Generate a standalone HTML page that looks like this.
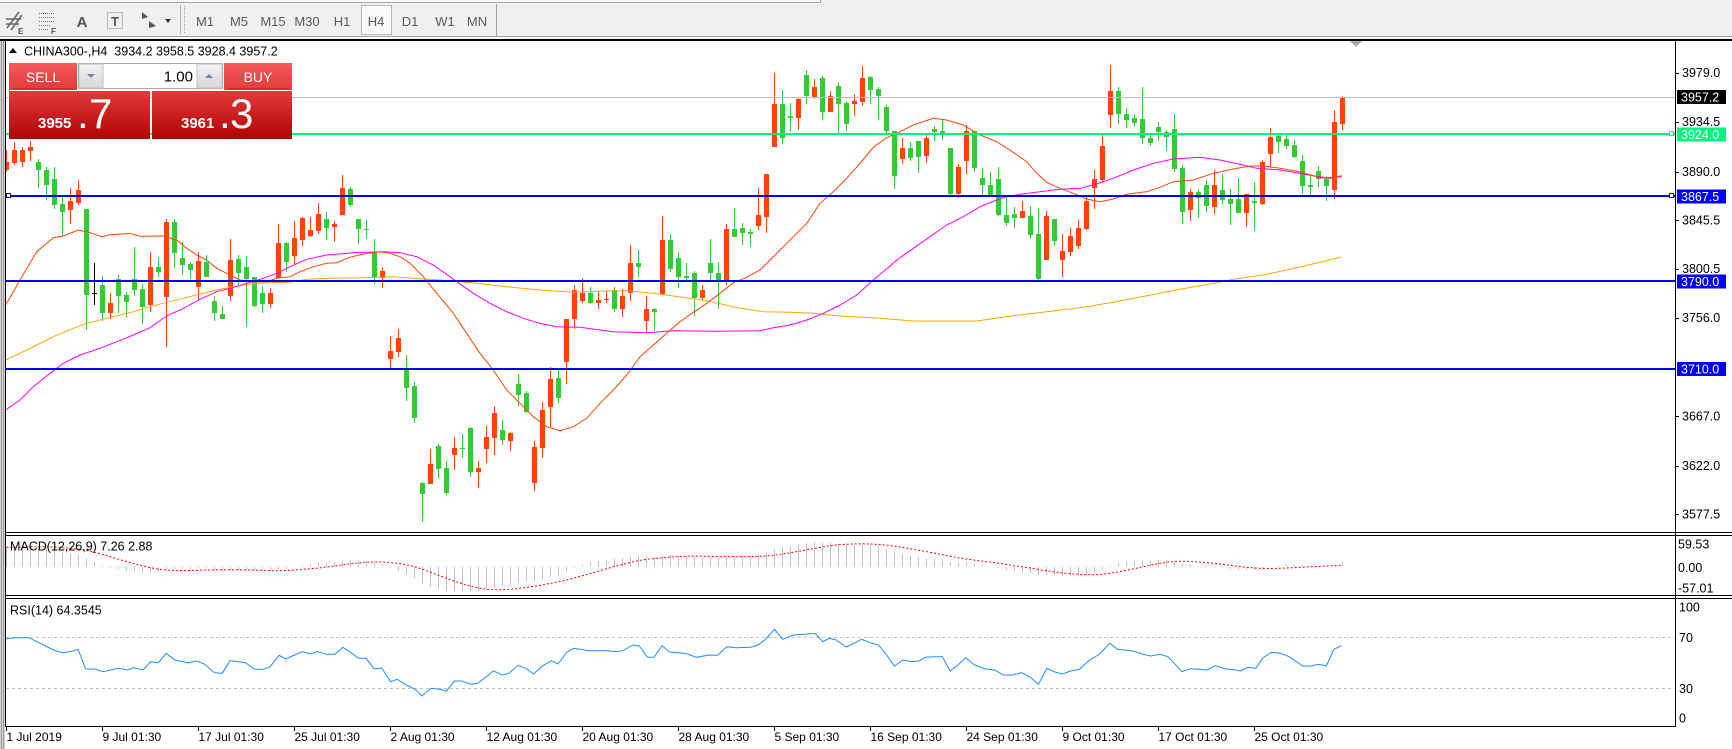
<!DOCTYPE html>
<html><head><meta charset="utf-8">
<style>
html,body{margin:0;padding:0;background:#fff;}
body{width:1732px;height:749px;overflow:hidden;position:relative;}
svg{position:absolute;left:0;top:0;}
text{font-family:"Liberation Sans",Arial,sans-serif;}
</style></head><body>
<svg id="s" width="1732" height="749" viewBox="0 0 1732 749" xmlns="http://www.w3.org/2000/svg">
<defs>
 <linearGradient id="gb" x1="0" y1="0" x2="0" y2="1"><stop offset="0" stop-color="#F65A5A"/><stop offset="1" stop-color="#E23A3A"/></linearGradient>
 <linearGradient id="gp" x1="0" y1="0" x2="0" y2="1"><stop offset="0" stop-color="#E33A3A"/><stop offset="1" stop-color="#B00404"/></linearGradient>
 <linearGradient id="gg" x1="0" y1="0" x2="0" y2="1"><stop offset="0" stop-color="#F2F2F2"/><stop offset="1" stop-color="#D8D8D8"/></linearGradient>
 <clipPath id="cm"><rect x="6" y="41" width="1669" height="491"/></clipPath>
 <clipPath id="cd"><rect x="6" y="536" width="1669" height="59"/></clipPath>
 <clipPath id="cr"><rect x="6" y="599" width="1669" height="127"/></clipPath>
</defs>
<rect x="0" y="0" width="1732" height="749" fill="#fff"/>
<!-- toolbar -->
<rect x="0" y="0" width="1732" height="37" fill="#f0f0f0"/>
<rect x="0" y="0" width="820" height="3" fill="#fbfbfb"/>
<line x1="0" y1="2.5" x2="820" y2="2.5" stroke="#a8a8a8"/>
<line x1="820.5" y1="0" x2="820.5" y2="3" stroke="#a8a8a8"/>
<line x1="0" y1="36.5" x2="1732" y2="36.5" stroke="#a0a0a0"/>
<rect x="0" y="39" width="1732" height="2" fill="#000"/>
<!-- icons -->
<g stroke="#666" stroke-width="1.5" fill="none"><path d="M7 28 L19 12 M11 30 L22 15 M6 19 L21 19 M6 24 L19 24"/></g>
<text x="18" y="34" font-size="8" font-weight="bold" fill="#555">E</text>
<g stroke="#777" stroke-width="1" stroke-dasharray="1 1"><path d="M39 13.5h16M39 17.5h16M39 21.5h16M39 25.5h12M39 29.5h10"/></g>
<text x="51" y="34" font-size="8" font-weight="bold" fill="#555">F</text>
<text x="82" y="27" font-size="15" font-weight="bold" fill="#555" text-anchor="middle">A</text>
<rect x="107.5" y="12.5" width="15" height="16" fill="none" stroke="#888" stroke-dasharray="1 1"/>
<text x="115" y="26" font-size="13" font-weight="bold" fill="#555" text-anchor="middle">T</text>
<path d="M142 12 l6 5 l-6 2z M149 21 l7 5 l-7 2z" fill="#555"/>
<polygon points="165,19 171,19 168,23" fill="#333"/>
<line x1="180.5" y1="5" x2="180.5" y2="34" stroke="#b0b0b0"/>
<line x1="184.5" y1="6" x2="184.5" y2="34" stroke="#999" stroke-dasharray="1 1"/>
<rect x="361.5" y="5.5" width="30" height="29" fill="#fafafa" stroke="#b8b8b8"/>
<g font-size="13" fill="#5a5a5a" text-anchor="middle">
<text x="205" y="26">M1</text><text x="239" y="26">M5</text><text x="273" y="26">M15</text><text x="307" y="26">M30</text>
<text x="342" y="26">H1</text><text x="376" y="26">H4</text><text x="410" y="26">D1</text><text x="445" y="26">W1</text><text x="477" y="26">MN</text>
</g>
<line x1="496.5" y1="4" x2="496.5" y2="36" stroke="#a0a0a0"/>
<!-- left frame -->
<rect x="0" y="41" width="5" height="708" fill="#d4d4d4"/>
<rect x="1" y="41" width="1" height="708" fill="#9a9a9a"/>
<rect x="3" y="41" width="1" height="708" fill="#9a9a9a"/>
<rect x="5" y="39" width="1" height="688" fill="#000"/>
<!-- panel borders -->
<rect x="5" y="532" width="1727" height="1" fill="#000"/>
<rect x="5" y="535" width="1727" height="1" fill="#000"/>
<rect x="5" y="595" width="1727" height="1" fill="#000"/>
<rect x="5" y="598" width="1727" height="1" fill="#000"/>
<rect x="5" y="726" width="1671" height="1" fill="#000"/>
<rect x="1675" y="40" width="1" height="687" fill="#000"/>
<!-- rsi levels -->
<line x1="6" y1="637.5" x2="1675" y2="637.5" stroke="#c0c0c0" stroke-dasharray="3 3"/>
<line x1="6" y1="688.5" x2="1675" y2="688.5" stroke="#c0c0c0" stroke-dasharray="3 3"/>
<!-- dynamic groups -->
<g id="gc" clip-path="url(#cm)"></g>
<g id="gma" clip-path="url(#cm)"></g>
<g id="gd" clip-path="url(#cd)"></g>
<g id="gr" clip-path="url(#cr)"></g>
<!-- horizontal lines -->
<rect x="6" y="97" width="1669" height="1" fill="#c0c0c0"/>
<rect x="6" y="133" width="1669" height="2" fill="#00F57F"/>
<rect x="6" y="195" width="1669" height="2" fill="#0000FF"/>
<rect x="6" y="280" width="1669" height="2" fill="#0000FF"/>
<rect x="6" y="368" width="1669" height="2" fill="#0000FF"/>
<rect x="1669.5" y="131.5" width="4" height="4" fill="#fff" stroke="#00F57F"/>
<rect x="1669.5" y="193.5" width="4" height="4" fill="#fff" stroke="#0000FF"/>
<rect x="6.5" y="193.5" width="4" height="4" fill="#fff" stroke="#0000FF"/>
<!-- shift marker -->
<polygon points="1350,41 1362,41 1356,47" fill="#a8a8a8"/>
<!-- title -->
<polygon points="9,53 13,48 17,53" fill="#000"/>
<text x="24" y="55.5" font-size="12.5" fill="#000" xml:space="preserve">CHINA300-,H4  3934.2 3958.5 3928.4 3957.2</text>
<!-- trade panel -->
<rect x="9" y="63" width="68" height="27" fill="url(#gb)"/>
<line x1="13" y1="88.5" x2="73" y2="88.5" stroke="#c02828"/>
<text x="43" y="82" font-size="14" fill="#fff" text-anchor="middle">SELL</text>
<rect x="224" y="63" width="68" height="27" fill="url(#gb)"/>
<line x1="228" y1="88.5" x2="288" y2="88.5" stroke="#c02828"/>
<text x="258" y="82" font-size="14" fill="#fff" text-anchor="middle">BUY</text>
<rect x="78.5" y="63.5" width="144" height="25" fill="#fff" stroke="#a8a8a8"/>
<rect x="79" y="64" width="24" height="24" fill="url(#gg)" stroke="#c0c0c0"/>
<rect x="197" y="64" width="25" height="24" fill="url(#gg)" stroke="#c0c0c0"/>
<polygon points="87,74 95,74 91,78" fill="#6f7fbf"/>
<polygon points="205,78 213,78 209,74" fill="#6f7fbf"/>
<text x="193" y="81.5" font-size="15" fill="#000" text-anchor="end">1.00</text>
<rect x="9" y="91" width="141" height="48" fill="url(#gp)"/>
<rect x="152" y="91" width="140" height="48" fill="url(#gp)"/>
<text x="38" y="128" font-size="15" font-weight="bold" fill="#fff">3955</text>
<text x="77" y="128" font-size="42" fill="#fff">.</text>
<text x="89" y="128" font-size="42" fill="#fff">7</text>
<text x="181" y="128" font-size="15" font-weight="bold" fill="#fff">3961</text>
<text x="219" y="128" font-size="42" fill="#fff">.</text>
<text x="230" y="128" font-size="42" fill="#fff">3</text>
<!-- indicator labels -->
<text x="10" y="550.5" font-size="12.5" fill="#000">MACD(12,26,9) 7.26 2.88</text>
<text x="10" y="614.5" font-size="12.5" fill="#000">RSI(14) 64.3545</text>
<!-- right axis -->
<g id="ax" font-size="12.5" fill="#000"></g>
<rect x="1677" y="90" width="49" height="14" fill="#000"/>
<text x="1681" y="101.5" font-size="12.5" fill="#fff">3957.2</text>
<rect x="1677" y="127.5" width="49" height="14" fill="#00F57F"/>
<text x="1681" y="139" font-size="12.5" fill="#fff">3924.0</text>
<rect x="1677" y="189.5" width="49" height="14" fill="#0000FF"/>
<text x="1681" y="201" font-size="12.5" fill="#fff">3867.5</text>
<rect x="1677" y="274.5" width="49" height="14" fill="#0000FF"/>
<text x="1681" y="286" font-size="12.5" fill="#fff">3790.0</text>
<rect x="1677" y="362" width="49" height="14" fill="#0000FF"/>
<text x="1681" y="373.5" font-size="12.5" fill="#fff">3710.0</text>
<g font-size="12.5" fill="#000">
<text x="1678" y="548.5">59.53</text><text x="1678" y="572">0.00</text><text x="1678" y="592.5">-57.01</text>
<text x="1679" y="611.5">100</text><text x="1679" y="641.8">70</text><text x="1679" y="692.8">30</text><text x="1679" y="722.3">0</text>
</g>
<g id="xa" font-size="12" fill="#000"></g>
</svg>
<script>
(function(){
const NS="http://www.w3.org/2000/svg";
function el(t,a,p){const e=document.createElementNS(NS,t);for(const k in a)e.setAttribute(k,a[k]);p.appendChild(e);return e;}
function $(id){return document.getElementById(id);}
const gc=$('gc'),gma=$('gma'),gd=$('gd'),gr=$('gr'),ax=$('ax'),xa=$('xa');
const D=[
[150,162,170,172,1],[142,150,163,165,1],[147,150,162,167,1],[141,147,151,161,1],[159,162,170,188,0],
[167,170,185,200,0],[167,179,205,209,0],[195,204,212,236,0],[188,201,210,224,1],[180,190,203,205,1],
[209,209,295,330,0],[263,293,294,305,2],[276,285,313,321,0],[293,303,313,319,1],[275,279,296,313,0],
[292,295,302,317,0],[247,279,290,296,0],[284,289,307,324,0],[252,267,305,312,1],[257,267,272,277,0],
[219,222,297,347,1],[219,222,253,268,0],[242,258,265,275,0],[262,264,270,279,0],[252,261,287,300,1],
[255,262,277,277,0],[296,301,313,321,0],[306,314,319,319,0],[239,260,296,301,1],[255,259,273,285,0],
[256,267,279,327,0],[277,277,306,307,0],[286,293,304,313,0],[288,293,304,308,1],[224,243,278,278,1],
[242,243,262,272,0],[221,238,256,264,1],[217,218,240,246,1],[217,230,236,237,1],[203,214,231,234,1],
[212,219,228,240,0],[221,224,227,242,1],[175,188,215,215,1],[187,189,205,207,0],[219,219,229,244,0],
[220,229,230,239,0],[239,252,277,284,0],[267,271,278,288,1],[336,351,359,369,1],[329,338,352,357,1],
[355,369,388,401,0],[382,386,418,423,0],[482,483,494,522,0],[449,464,484,484,1],[444,446,469,478,0],
[461,468,493,495,0],[437,448,455,470,1],[434,448,449,458,0],[427,428,472,477,0],[461,468,472,488,1],
[426,437,449,463,1],[406,413,438,455,1],[420,430,440,445,0],[432,433,441,451,1],[374,384,395,406,0],
[391,393,412,413,0],[441,447,483,491,1],[402,410,448,458,1],[367,379,407,427,1],[370,378,398,403,0],
[319,319,362,384,1],[285,290,319,329,1],[278,293,301,303,1],[287,293,303,304,0],[291,300,303,309,1],
[291,299,300,303,1],[287,290,309,312,0],[289,296,309,317,1],[245,263,293,301,1],[250,263,267,277,0],
[296,309,321,333,1],[308,309,312,331,0],[216,240,294,295,1],[234,240,269,272,0],[252,258,277,288,0],
[263,276,278,280,0],[271,273,298,316,0],[285,290,298,301,1],[239,263,273,280,0],[262,273,281,309,0],
[224,229,281,285,1],[208,229,237,237,0],[223,228,233,245,0],[229,232,234,247,0],[188,215,226,230,1],
[174,174,217,233,1],[73,104,147,147,1],[90,104,138,144,0],[103,116,118,131,0],[98,99,118,130,1],
[70,75,96,104,0],[79,87,97,99,1],[76,78,112,120,0],[91,96,112,112,1],[82,86,104,133,0],
[101,103,124,131,0],[94,101,104,116,1],[66,78,102,106,1],[76,77,90,104,0],[87,89,96,120,0],
[105,107,131,135,0],[131,131,176,189,0],[138,148,159,164,1],[142,148,158,161,0],[141,141,157,173,0],
[135,138,156,163,1],[126,129,132,141,0],[119,131,134,140,0],[148,148,194,197,0],[164,167,194,198,1],
[125,131,161,174,1],[131,131,168,172,0],[168,178,185,197,0],[172,185,196,197,0],[167,179,215,216,0],
[197,215,223,226,0],[207,214,218,228,0],[201,211,218,218,1],[206,216,235,239,0],[208,234,279,281,0],
[211,216,260,260,1],[219,219,241,245,0],[234,251,260,277,1],[228,236,252,256,1],[220,228,246,249,1],
[195,201,229,230,1],[170,179,188,209,1],[133,146,180,182,1],[65,91,115,128,1],[87,91,114,124,0],
[108,114,120,128,0],[114,118,123,127,0],[87,119,138,144,0],[135,138,143,146,0],[122,127,132,141,0],
[130,132,137,151,0],[114,129,169,172,0],[165,168,212,224,0],[189,192,210,221,1],[189,192,198,218,0],
[180,185,206,212,0],[170,185,207,214,1],[174,190,200,204,0],[189,199,204,225,0],[178,199,213,213,0],
[194,194,213,227,1],[182,201,203,231,0],[160,162,204,205,1],[128,137,154,167,1],[134,136,142,153,0],
[135,139,146,149,0],[140,145,157,158,0],[155,161,186,194,0],[175,185,187,195,0],[166,171,179,187,0],
[176,179,186,201,0],[110,122,190,199,1],[96,97,124,130,1]
];
// candles
D.forEach(function(d,i){
  var x=6+8*i;var col=d[4]==1?'#FF4500':(d[4]==0?'#32CD32':'#000000');
  el('rect',{x:x,y:d[0],width:1,height:Math.max(1,d[3]-d[0]),fill:col},gc);
  if(d[4]==2){el('rect',{x:x-2,y:d[1],width:5,height:1,fill:col},gc);}
  else{el('rect',{x:x-2,y:d[1],width:5,height:Math.max(1,d[2]-d[1]),fill:col},gc);}
});
function pl(arr,col,p,extra){var a={points:arr.map(function(q){return q[0]+','+q[1];}).join(' '),fill:'none',stroke:col,'stroke-width':1};
  if(extra)for(var k in extra)a[k]=extra[k];el('polyline',a,p);}
var RED=[[5.7,305],[20,280],[36.7,251.7],[53.3,237.7],[63.3,236],[78.3,230],[90,232.7],[101.7,236.7],[110,234.7],[130,233.3],[140,236.3],[163.3,236],[176.7,240],[186.7,248.3],[196.7,255],[206.7,260],[216.7,268.3],[226.7,273.3],[240,280],[253.3,281.7],[266.7,281.7],[276.7,278.3],[290,276.7],[300,271.7],[313.3,266.7],[326.7,263.3],[336.7,262.7],[350,257.3],[363.3,254],[380,251.7],[390,253.3],[400,256.7],[410,263.3],[423.3,276.7],[436.7,293.3],[446.7,305],[453.3,313.3],[466.7,333.3],[480,353.3],[493.3,370],[506.7,390],[520,403.3],[533.3,416.7],[546.7,426.7],[560,430.7],[573.3,426.7],[586.7,418.3],[600,403.3],[613.3,390],[626.7,375],[640,356.7],[653.3,345],[666.7,333.3],[680,321.7],[693.3,312.3],[706.7,303.3],[720,293.3],[733.3,282.7],[746.7,277.3],[760,270],[770,260],[780,250],[793.3,236.7],[806.7,223.3],[820,203.3],[833.3,191.7],[846.7,178.3],[860,163.3],[873.3,147.3],[886,138],[896.7,133.3],[913.3,125],[933.3,118.3],[946.7,120],[963.3,125],[980,135],[996.7,141.7],[1013.3,152.3],[1026.7,161.7],[1036.7,173.3],[1046.7,182.3],[1060,188.3],[1073.3,193.3],[1086.7,199],[1100,201.7],[1113.3,199],[1126.7,194.3],[1146.7,191.7],[1160,187.3],[1173.3,181.7],[1193.3,180],[1213.3,173.3],[1233.3,169],[1250,166],[1263.3,166],[1280,168.3],[1300,171.7],[1320,177.7],[1330,178.3],[1341.7,175.7]];
var MAG=[[5.7,410],[20,400],[33.3,386.7],[50,373.3],[63.3,363.3],[80,355],[100,348.3],[116.7,341.7],[133.3,335],[150,327.7],[166.7,316],[183.3,308.3],[200,299.3],[216.7,291.7],[233.3,287.3],[246.7,283.3],[263.3,278.3],[276.7,273.3],[290,266.7],[306.7,259.3],[326.7,255],[353.3,252.7],[383.3,251.7],[400,252.7],[416.7,256.7],[433.3,265],[450,276.7],[456.7,281.7],[473.3,293.3],[490,303.3],[506.7,311.7],[523.3,318.3],[540,323.3],[556.7,326.7],[580,327.3],[613.3,331.7],[646.7,332.7],[673.3,330.7],[716.7,331.3],[760,330.7],[773.3,327.7],[790,325],[806.7,320],[823.3,313.3],[840,305],[856.7,295],[873.3,280],[890,266],[896.7,260],[913.3,248.3],[930,236.7],[946.7,225],[963.3,216.7],[980,206.7],[996.7,200],[1006.7,196.7],[1020,194.3],[1040,191.7],[1060,189.3],[1080,188.3],[1093.3,185],[1113.3,178.3],[1133.3,170],[1153.3,163.3],[1173.3,159],[1200,157.3],[1220,160],[1240,164.3],[1256.7,168.3],[1280,170],[1300,173.3],[1313.3,175.7],[1326.7,177.7],[1341.7,176.7]];
var ORG=[[5.7,360],[20,353.3],[36.7,345],[53.3,336.7],[73.3,328.3],[86.7,323.3],[106.7,318.3],[133.3,311.7],[150,306.7],[166.7,302.3],[183.3,298.3],[200,294],[216.7,290],[233.3,286.7],[250,284],[266.7,282.7],[290,282.3],[306.7,279.3],[330,278.3],[366.7,277.7],[393.3,276.7],[426.7,279.3],[440,280],[473.3,282.7],[506.7,286.7],[540,290],[573.3,292.3],[606.7,291],[626.7,290.7],[653.3,293.3],[673.3,296],[706.7,300.7],[740,308.3],[763.3,311.7],[790,312.3],[813.3,313.3],[840,316],[880,318.3],[913.3,321],[946.7,321],[976.7,321],[1013.3,315.7],[1046.7,311.7],[1080,307.7],[1113.3,302.3],[1146.7,295.7],[1180,289.3],[1213.3,283.3],[1233.3,279.3],[1263.3,275],[1296.7,267.7],[1341.7,257]];
pl(ORG,'#FFA500',gma);pl(MAG,'#FF00FF',gma);pl(RED,'#FF4500',gma);
// MACD
var P=function(y){return 3979-(y-73)/1.099;};
var all=[];for(var k=0;k<80;k++)all.push(3400+6*k);
var N0=all.length;D.forEach(function(d){all.push(P(d[4]==0?d[2]:d[1]));});
var e12=all[0],e26=all[0],m=[];
all.forEach(function(p){e12+=(p-e12)*2/13;e26+=(p-e26)*2/27;m.push(e12-e26);});
var Y0=566.7,K=0.4617;
var my=function(v){return Math.max(537,Math.min(594,Y0-v*K));};
var sp=[];
for(var i=0;i<D.length;i++){
  var v=m[N0+i],y=my(v),x=6+8*i;
  el('rect',{x:x,y:Math.min(y,Y0),width:1,height:Math.max(0.5,Math.abs(y-Y0)),fill:'#C0C0C0'},gd);
  var s=0;for(var j=N0+i-8;j<=N0+i;j++)s+=m[j];
  sp.push([6.5+8*i,my(s/9).toFixed(1)]);
}
pl(sp,'#FF0000',gd,{'stroke-dasharray':'2 2'});
// RSI
var z5=[10,148,30,143,65,143,90,160,120,180,140,188,155,185,175,178,192,237,215,238,230,245,265,235,285,240,300,233,320,240,338,215,355,218,372,190,392,210,420,218,440,213,458,222,480,248,498,250,515,212,550,218,570,238,590,238,605,230,625,196,640,207,660,195,678,185,695,192,712,185,730,193,750,193,768,172,785,187,803,205,820,205,838,236,855,234,875,275,890,268,910,285,930,298,945,318,965,295,985,298,1000,303,1018,273,1035,273,1055,283,1070,280,1090,260,1105,242,1125,255,1140,250,1160,226,1178,235,1195,252,1215,228,1235,212,1250,222,1270,186,1285,175,1320,182,1360,182,1380,185,1395,182,1418,165,1432,168,1450,202,1465,202,1483,167,1500,186,1520,188,1540,192,1560,202];
var z6=[0,202,20,195,40,196,60,170,80,173,115,172,130,165,145,150,167,118,185,148,210,135,240,132,258,130,275,155,290,145,305,150,328,171,345,160,362,148,385,160,400,165,418,195,435,228,455,210,475,215,490,213,505,202,525,200,543,200,560,243,578,225,595,203,615,225,640,237,660,240,680,255,700,255,720,248,740,262,758,283,777,235,795,246,812,252,830,243,850,238,870,213,895,192,918,160,935,178,970,183,990,192,1010,198,1030,193,1048,200,1080,245,1098,236,1115,238,1135,240,1155,227,1175,236,1200,240,1210,243,1228,232,1245,235,1260,205,1280,187,1300,190,1320,200,1350,228,1370,228,1385,223,1403,228,1420,178,1437,167];
var rs=[];
for(var a=0;a<z5.length;a+=2)rs.push([(z5[a]/2.24).toFixed(1),(590+z5[a+1]/3).toFixed(1)]);
for(var b=2;b<z6.length;b+=2)rs.push([(700+z6[b]/2.24).toFixed(1),(590+z6[b+1]/3).toFixed(1)]);
pl(rs,'#1E90FF',gr);
// right axis labels
var L=[["3979.0",72.7],["3934.5",121.7],["3890.0",171.7],["3845.5",220.3],["3800.5",268.7],["3756.0",317.7],["3667.0",416.3],["3622.0",465.7],["3577.5",514]];
L.forEach(function(l){
  el('rect',{x:1676,y:Math.round(l[1]),width:3,height:1,fill:'#000'},ax);
  var t=el('text',{x:1682,y:(l[1]+4.4).toFixed(1)},ax);t.textContent=l[0];
});
// x axis
var XL=["1 Jul 2019","9 Jul 01:30","17 Jul 01:30","25 Jul 01:30","2 Aug 01:30","12 Aug 01:30","20 Aug 01:30","28 Aug 01:30","5 Sep 01:30","16 Sep 01:30","24 Sep 01:30","9 Oct 01:30","17 Oct 01:30","25 Oct 01:30"];
XL.forEach(function(s,k){
  var x=6+96*k;
  el('rect',{x:x,y:727,width:1,height:4,fill:'#000'},xa);
  var t=el('text',{x:x+0.5,y:741},xa);t.textContent=s;
});
})();
</script>
</body></html>
